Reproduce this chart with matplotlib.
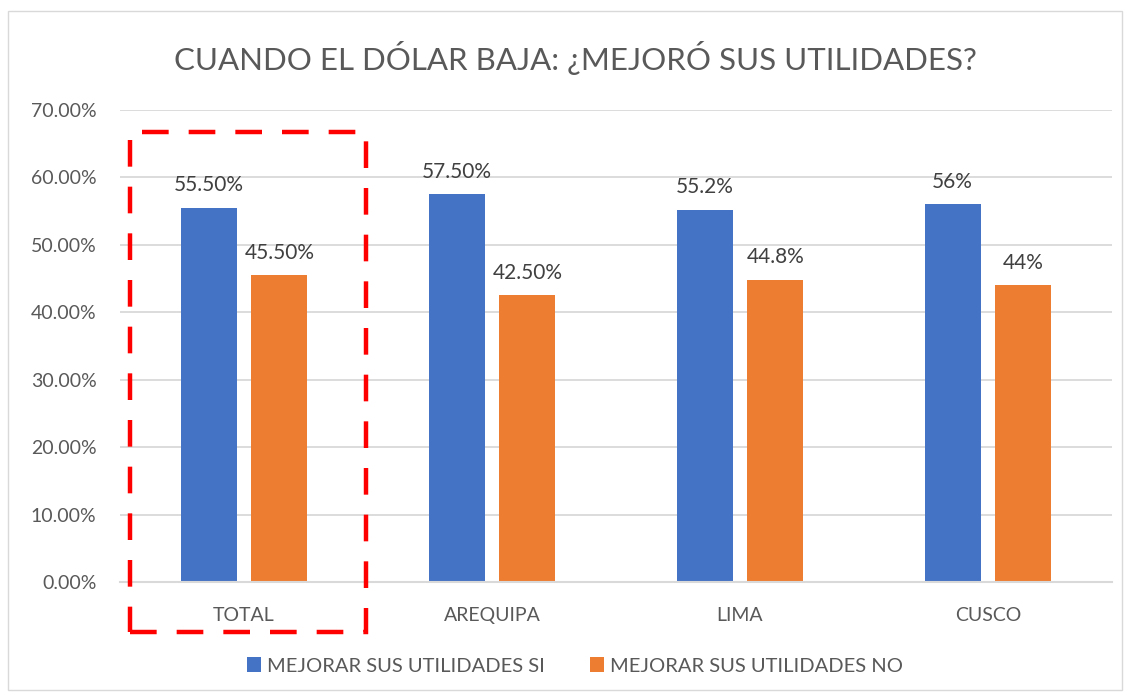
import matplotlib
matplotlib.use("Agg")
import matplotlib.pyplot as plt
from matplotlib.patches import Rectangle
import numpy as np

categories = ["TOTAL", "AREQUIPA", "LIMA", "CUSCO"]
si_values = [55.5, 57.5, 55.2, 56.0]
no_values = [45.5, 42.5, 44.8, 44.0]
si_labels = ["55.50%", "57.50%", "55.2%", "56%"]
no_labels = ["45.50%", "42.50%", "44.8%", "44%"]
series_names = ["MEJORAR SUS UTILIDADES SI", "MEJORAR SUS UTILIDADES NO"]
title = "CUANDO EL DÓLAR BAJA: ¿MEJORÓ SUS UTILIDADES?"
yticks = [0, 10, 20, 30, 40, 50, 60, 70]

plt.rcParams['font.family'] = ['Lato', 'DejaVu Sans']
W, H = 1130, 698
fig = plt.figure(figsize=(W/100, H/100), dpi=100)
ax = fig.add_axes([120/W, 1-582/H, (1112-120)/W, (582-110)/H])

x = np.arange(len(categories))
bw = 0.226
off = 0.143
blue = "#4472C4"
orange = "#ED7D31"
ax.bar(x - off, si_values, bw, color=blue, label=series_names[0], zorder=3)
ax.bar(x + off, no_values, bw, color=orange, label=series_names[1], zorder=3)

for xi, v, l in zip(x, si_values, si_labels):
    ax.annotate(l, (xi - off, v), xytext=(0, 9), textcoords="offset points",
                ha="center", va="bottom", fontsize=15, color="#404040")
for xi, v, l in zip(x, no_values, no_labels):
    ax.annotate(l, (xi + off, v), xytext=(0, 9), textcoords="offset points",
                ha="center", va="bottom", fontsize=15, color="#404040")

ax.set_xlim(-0.5, len(categories) - 0.5)
ax.set_ylim(0, 70)
ax.set_yticks(yticks)
ax.set_yticklabels([f"{t:.2f}%" for t in yticks])
ax.set_xticks(x)
ax.set_xticklabels(categories)
ax.tick_params(axis="both", length=0, labelsize=14, labelcolor="#595959")
ax.tick_params(axis="y", pad=17)
ax.tick_params(axis="x", pad=18)
ax.yaxis.grid(True, color="#D9D9D9", linewidth=1.3, zorder=0)
for s in ["top", "right", "left"]:
    ax.spines[s].set_visible(False)
ax.spines["bottom"].set_color("#D9D9D9")
ax.spines["bottom"].set_linewidth(1.5)
ax.spines["bottom"].set_zorder(4)

fig.text(575/W, 1-58/H, title, ha="center", va="center", fontsize=22.5, color="#595959")

leg = fig.legend(loc="center", bbox_to_anchor=(575/W, 1-666/H), ncol=2, frameon=False,
                 fontsize=14.5, handlelength=0.7, handleheight=0.7, handletextpad=0.3,
                 columnspacing=2.2, labelcolor="#595959")

# dashed highlight box
rect = Rectangle((130/W, 1-632/H), (366-130)/W, (632-132)/H, transform=fig.transFigure,
                 fill=False, edgecolor="#FF0000", linewidth=3.2,
                 linestyle=(0, (6, 4.5)), zorder=5)
fig.patches.append(rect)

# chart border
border = Rectangle((8/W, 1-690/H), (1122-8)/W, (690-11)/H, transform=fig.transFigure,
                   fill=False, edgecolor="#D9D9D9", linewidth=1)
fig.patches.append(border)

fig.savefig("out.png", dpi=100, facecolor="white")
